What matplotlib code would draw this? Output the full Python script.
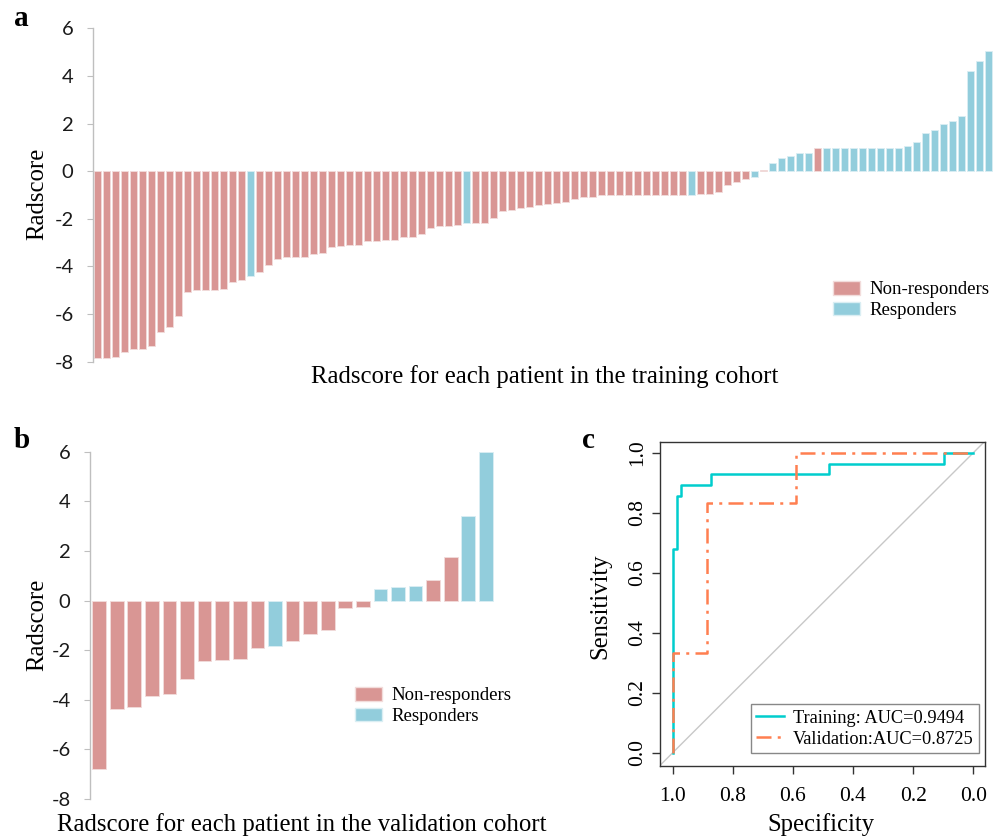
import numpy as np
import matplotlib
matplotlib.use("Agg")
import matplotlib.pyplot as plt
from matplotlib.patches import Patch
from matplotlib.lines import Line2D

plt.rcParams["axes.unicode_minus"] = False  # Excel-style hyphen minus

# ---- data ----
# training cohort radscores (sorted) and response flag (1 = responder)
train_scores = [
    -7.83, -7.83, -7.80, -7.59, -7.48, -7.48, -7.34, -6.74, -6.55, -6.06,
    -5.06, -5.00, -4.97, -4.97, -4.94, -4.66, -4.58, -4.41, -4.24, -3.96,
    -3.70, -3.61, -3.61, -3.59, -3.46, -3.42, -3.17, -3.14, -3.10, -3.08,
    -2.94, -2.93, -2.91, -2.89, -2.76, -2.75, -2.65, -2.37, -2.31, -2.31,
    -2.24, -2.18, -2.17, -2.16, -1.98, -1.69, -1.61, -1.54, -1.50, -1.41,
    -1.37, -1.34, -1.30, -1.16, -1.09, -1.09, -1.00, -0.99, -0.99, -0.99,
    -0.99, -0.99, -0.99, -0.99, -0.99, -0.99, -0.98, -0.95, -0.94, -0.87,
    -0.59, -0.45, -0.34, -0.25, 0.04, 0.34, 0.55, 0.64, 0.77, 0.78,
    0.98, 0.98, 0.98, 0.98, 0.98, 0.98, 0.98, 0.98, 0.98, 0.98,
    1.05, 1.22, 1.62, 1.75, 1.97, 2.09, 2.31, 4.22, 4.61, 5.03,
]
train_resp = [
    0, 0, 0, 0, 0, 0, 0, 0, 0, 0,
    0, 0, 0, 0, 0, 0, 0, 1, 0, 0,
    0, 0, 0, 0, 0, 0, 0, 0, 0, 0,
    0, 0, 0, 0, 0, 0, 0, 0, 0, 0,
    0, 1, 0, 0, 0, 0, 0, 0, 0, 0,
    0, 0, 0, 0, 0, 0, 0, 0, 0, 0,
    0, 0, 0, 0, 0, 0, 1, 0, 0, 0,
    0, 0, 0, 1, 0, 1, 1, 1, 1, 1,
    0, 1, 1, 1, 1, 1, 1, 1, 1, 1,
    1, 1, 1, 1, 1, 1, 1, 1, 1, 1,
]

valid_scores = [-6.80, -4.39, -4.30, -3.83, -3.75, -3.16, -2.43, -2.39, -2.34,
                -1.92, -1.83, -1.64, -1.33, -1.20, -0.32, -0.28, 0.46, 0.54,
                0.60, 0.82, 1.76, 3.39, 5.99]
valid_resp = [0, 0, 0, 0, 0, 0, 0, 0, 0, 0, 1, 0, 0, 0, 0, 0, 1, 1, 1, 0, 0, 1, 1]

# ROC step vertices (specificity, sensitivity)
train_spec = [1.0, 1.0, 0.986, 0.986, 0.972, 0.972, 0.872, 0.872, 0.48, 0.48, 0.097, 0.097, 0.0]
train_sens = [0.0, 0.679, 0.679, 0.857, 0.857, 0.893, 0.893, 0.929, 0.929, 0.964, 0.964, 1.0, 1.0]
valid_spec = [1.0, 1.0, 0.885, 0.885, 0.591, 0.591, 0.0]
valid_sens = [0.0, 0.333, 0.333, 0.833, 0.833, 1.0, 1.0]

auc_labels = ["Training: AUC=0.9494", "Validation:AUC=0.8725"]
group_labels = ["Non-responders", "Responders"]
yticks_bar = [-8, -6, -4, -2, 0, 2, 4, 6]
roc_ticks = [0.0, 0.2, 0.4, 0.6, 0.8, 1.0]

PINK, BLUE = "#D99694", "#92CDDC"
PINK_EDGE, BLUE_EDGE = "#F2DCDB", "#DAEEF3"
TRAIN_C, VALID_C = "#00CDCD", "#FF7F50"
SERIF = "Liberation Serif"
SANS = "Lato"
DOTDASH = (0, (6, 2.5, 1.2, 2.5))

W, H = 998, 839
fig = plt.figure(figsize=(W / 100, H / 100), dpi=100, facecolor="white")


def box(l, t, r, b):
    """pixel box -> figure fraction rect"""
    return [l / W, 1 - b / H, (r - l) / W, (b - t) / H]


def waterfall(ax, scores, resp, width):
    x = np.arange(len(scores))
    cols = [BLUE if r else PINK for r in resp]
    edges = [BLUE_EDGE if r else PINK_EDGE for r in resp]
    ax.bar(x, scores, width=width, color=cols, edgecolor=edges, linewidth=0.6)
    for s in ("top", "right", "bottom"):
        ax.spines[s].set_visible(False)
    ax.spines["left"].set_color("#BFBFBF")
    ax.spines["left"].set_linewidth(1.0)
    ax.set_ylim(-8, 6)
    ax.set_yticks(yticks_bar)
    ax.set_xticks([])
    ax.tick_params(axis="y", direction="out", length=4, color="#BFBFBF",
                   labelsize=14.5, pad=10, labelcolor="#1A1A1A")
    for t in ax.get_yticklabels():
        t.set_fontfamily(SANS)


def group_legend(loc_xy, spacing):
    handles = [Patch(facecolor=PINK, edgecolor=PINK_EDGE),
               Patch(facecolor=BLUE, edgecolor=BLUE_EDGE)]
    fig.legend(handles, group_labels, loc="upper left",
               bbox_to_anchor=(loc_xy[0] / W, 1 - loc_xy[1] / H),
               frameon=False, borderpad=0, handlelength=1.4, handleheight=0.7,
               handletextpad=0.5, labelspacing=spacing,
               prop={"family": SERIF, "size": 13.5})


# ---- a: training waterfall ----
ax_a = fig.add_axes(box(93, 28.3, 993, 361.7))
waterfall(ax_a, train_scores, train_resp, 0.82)
ax_a.set_xlim(-0.5, len(train_scores) - 0.5)
group_legend((824, 272), 0.2)
fig.text(37.7 / W, 1 - 194 / H, "Radscore", rotation=90, ha="center", va="center",
         family=SERIF, fontsize=17.8)
fig.text(545 / W, 1 - 377 / H, "Radscore for each patient in the training cohort",
         ha="center", va="center", family=SERIF, fontsize=17.8)

# ---- b: validation waterfall ----
ax_b = fig.add_axes(box(90, 451.7, 494.7, 799))
waterfall(ax_b, valid_scores, valid_resp, 0.78)
ax_b.set_xlim(-0.52, len(valid_scores) - 0.5)
group_legend((346, 678), 0.2)
fig.text(37 / W, 1 - 625 / H, "Radscore", rotation=90, ha="center", va="center",
         family=SERIF, fontsize=17.8)
fig.text(302 / W, 1 - 825 / H, "Radscore for each patient in the validation cohort",
         ha="center", va="center", family=SERIF, fontsize=17.8)

# ---- c: ROC curves ----
ax_c = fig.add_axes(box(660, 441.7, 985, 765.7))
ax_c.axline((1, 0), (0, 1), color="#C8C8C8", lw=1.0)
ax_c.plot(train_spec, train_sens, color=TRAIN_C, lw=1.8)
ax_c.plot(valid_spec, valid_sens, color=VALID_C, lw=1.8, linestyle=DOTDASH)
ax_c.set_xlim(1.042, -0.039)
ax_c.set_ylim(-0.043, 1.037)
ax_c.set_xticks(roc_ticks)
ax_c.set_yticks(roc_ticks)
ax_c.set_xticklabels([f"{v:.1f}" for v in roc_ticks])
ax_c.set_yticklabels([f"{v:.1f}" for v in roc_ticks], rotation=90, va="center")
ax_c.tick_params(direction="out", length=6, width=1.0, labelsize=15.5,
                 color="#333333")
ax_c.tick_params(axis="x", pad=9)
ax_c.tick_params(axis="y", pad=3.5)
for t in ax_c.get_xticklabels() + ax_c.get_yticklabels():
    t.set_fontfamily(SERIF)
for s in ax_c.spines.values():
    s.set_color("#333333")
    s.set_linewidth(1.0)
roc_handles = [Line2D([], [], color=TRAIN_C, lw=1.8),
               Line2D([], [], color=VALID_C, lw=1.8, linestyle=DOTDASH)]
leg = ax_c.legend(roc_handles, auc_labels, loc="lower right",
                  bbox_to_anchor=(0.9815, 0.039), borderaxespad=0,
                  fancybox=False, edgecolor="#888888", framealpha=1,
                  handlelength=1.5, handletextpad=0.5, labelspacing=0.2,
                  borderpad=0.3, prop={"family": SERIF, "size": 13.2})
leg.get_frame().set_linewidth(1.0)
fig.text(600 / W, 1 - 606 / H, "Sensitivity", rotation=90, ha="center", va="center",
         family=SERIF, fontsize=17.8)
fig.text(821 / W, 1 - 825 / H, "Specificity", ha="center", va="center",
         family=SERIF, fontsize=17.8)

# panel letters
for lbl, px, py in (("a", 14, 26), ("b", 14, 448), ("c", 582, 448)):
    fig.text(px / W, 1 - py / H, lbl, ha="left", va="baseline",
             family=SERIF, fontweight="bold", fontsize=21)

fig.savefig("out.png", dpi=100, facecolor="white")
